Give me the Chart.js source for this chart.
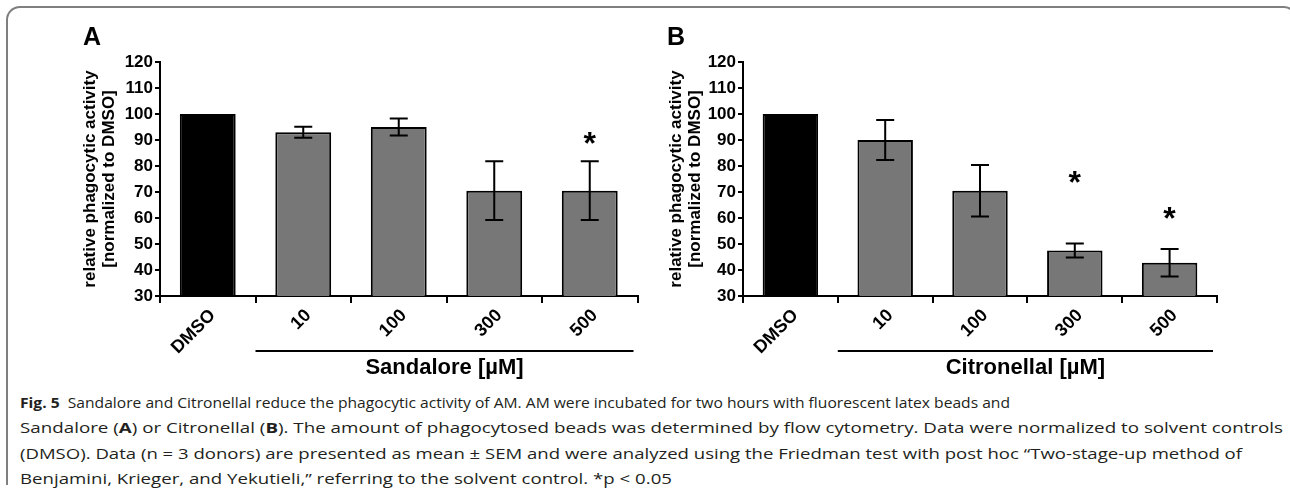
<!DOCTYPE html>
<html>
<head>
<meta charset="utf-8">
<script src="https://cdn.jsdelivr.net/npm/chart.js@4.4.1/dist/chart.umd.min.js"></script>
<style>
  body { margin: 0; background: #fff; width: 1290px; height: 494px; overflow: hidden; position: relative; font-family: "Liberation Sans", Arial, sans-serif; }
  .frame { position: absolute; left: 6px; top: 6px; width: 1286px; height: 477px; border-top: 2px solid #7f7f7f; border-left: 2px solid #7f7f7f; border-right: 2px solid #7f7f7f; border-radius: 14px 12px 0 0; }
  .panel { position: absolute; top: 0; }
  .cap { position: absolute; left: 20px; font-family: "Open Sans", sans-serif; font-size: 15px; color: #231f20; white-space: nowrap; transform-origin: 0 50%; line-height: 25px; }
  .cap b { font-weight: 700; }
</style>
</head>
<body>
<div class="frame"></div>
<canvas id="chartA" class="panel" style="left:0" width="645" height="380"></canvas>
<canvas id="chartB" class="panel" style="left:645px" width="645" height="380"></canvas>

<div class="cap" style="top:390px" data-w="990"><b>Fig. 5</b>&nbsp; Sandalore and Citronellal reduce the phagocytic activity of AM. AM were incubated for two hours with fluorescent latex beads and</div>
<div class="cap" style="top:415px" data-w="1263">Sandalore (<b>A</b>) or Citronellal (<b>B</b>). The amount of phagocytosed beads was determined by flow cytometry. Data were normalized to solvent controls</div>
<div class="cap" style="top:441px" data-w="1222">(DMSO). Data (n = 3 donors) are presented as mean ± SEM and were analyzed using the Friedman test with post hoc “Two-stage-up method of</div>
<div class="cap" style="top:466px" data-w="652">Benjamini, Krieger, and Yekutieli,” referring to the solvent control. *p &lt; 0.05</div>

<script>
var categories = ['DMSO', '10', '100', '300', '500'];
var yTitle = ['relative phagocytic activity', '[normalized to DMSO]'];
var yMin = 30, yMax = 120, yStep = 10;

// panel A: Sandalore
var sandaloreMean = [100, 93, 95, 70.5, 70.5];
var sandaloreSem = [0, 2.1, 3.3, 11.3, 11.3];
var sandaloreStar = [null, null, null, null, 91];

// panel B: Citronellal
var citronellalMean = [100, 90, 70.5, 47.5, 42.8];
var citronellalSem = [0, 7.7, 9.9, 2.7, 5.3];
var citronellalStar = [null, null, null, 76, 62.5];

var barColors = ['#000000', '#777777', '#777777', '#777777', '#777777'];
var boldFont = '"Liberation Sans", Arial, sans-serif';

var extras = {
  id: 'extras',
  afterDraw: function(chart, args, o) {
    var ctx = chart.ctx, x = chart.scales.x, y = chart.scales.y;
    var meta = chart.getDatasetMeta(0);
    ctx.save();
    ctx.strokeStyle = '#000';
    ctx.fillStyle = '#000';
    ctx.lineWidth = 2;
    // error bars
    meta.data.forEach(function(bar, i) {
      var e = o.sem[i];
      if (!e) return;
      var top = y.getPixelForValue(o.mean[i] + e);
      var bot = y.getPixelForValue(o.mean[i] - e);
      ctx.beginPath();
      ctx.moveTo(bar.x, top); ctx.lineTo(bar.x, bot);
      ctx.moveTo(bar.x - 9, top); ctx.lineTo(bar.x + 9, top);
      ctx.moveTo(bar.x - 9, bot); ctx.lineTo(bar.x + 9, bot);
      ctx.stroke();
    });
    // significance stars
    ctx.font = 'bold 32px ' + boldFont;
    ctx.textAlign = 'center';
    ctx.textBaseline = 'alphabetic';
    o.stars.forEach(function(v, i) {
      if (v == null) return;
      ctx.fillText('*', x.getPixelForValue(i), y.getPixelForValue(v) + 17);
    });
    // panel letter
    ctx.textAlign = 'left';
    ctx.font = 'bold 25px ' + boldFont;
    ctx.fillText(o.letter, o.letterX, 45);
    // group line + title
    var step = x.getPixelForValue(1) - x.getPixelForValue(0);
    var x1 = x.getPixelForValue(1) - step / 2;
    var x2 = x.getPixelForValue(4) + step / 2 - 4;
    ctx.beginPath();
    ctx.moveTo(x1, 351); ctx.lineTo(x2, 351);
    ctx.stroke();
    ctx.textAlign = 'center';
    ctx.font = 'bold 22px ' + boldFont;
    ctx.fillText(o.group, (x1 + x2) / 2, 374);
    ctx.restore();
  }
};

function makePanel(id, mean, sem, stars, group, letter, letterX, padLeft, yWidth, padRight) {
  return new Chart(document.getElementById(id), {
    type: 'bar',
    data: {
      labels: categories,
      datasets: [{
        data: mean,
        backgroundColor: barColors,
        borderColor: '#000',
        borderWidth: 2,
        categoryPercentage: 1,
        barPercentage: 0.585
      }]
    },
    options: {
      responsive: false,
      devicePixelRatio: 1,
      animation: false,
      layout: { padding: { left: padLeft, right: padRight, top: 62, bottom: 0 } },
      plugins: {
        legend: { display: false },
        tooltip: { enabled: false },
        extras: { mean: mean, sem: sem, stars: stars, group: group, letter: letter, letterX: letterX }
      },
      scales: {
        x: {
          z: 1,
          offset: true,
          grid: { offset: true, drawOnChartArea: false, color: '#000', lineWidth: 2, tickLength: 7 },
          border: { color: '#000', width: 2 },
          ticks: { color: '#000', font: { family: boldFont, size: 18, weight: 'bold' }, minRotation: 45, maxRotation: 45, padding: 2, labelOffset: 5 },
          afterFit: function(s) { s.height = 84; }
        },
        y: {
          z: 1,
          min: yMin, max: yMax,
          grid: { drawOnChartArea: false, color: '#000', lineWidth: 2, tickLength: 5 },
          border: { color: '#000', width: 2 },
          ticks: { stepSize: yStep, color: '#000', padding: 2, font: { family: boldFont, size: 17, weight: 'bold' } },
          title: { display: true, text: yTitle, color: '#000', padding: 0, font: { family: boldFont, size: 17, weight: 'bold', lineHeight: 1.12 } },
          afterFit: function(s) { s.width = yWidth; }
        }
      }
    },
    plugins: [extras]
  });
}

makePanel('chartA', sandaloreMean, sandaloreSem, sandaloreStar, 'Sandalore [µM]', 'A', 83, 81, 79, 7.5);
makePanel('chartB', citronellalMean, citronellalSem, citronellalStar, 'Citronellal [µM]', 'B', 22, 22, 76, 73);

// squeeze caption lines to the printed widths
document.querySelectorAll('.cap').forEach(function(el) {
  var w = el.getBoundingClientRect().width;
  var target = parseFloat(el.getAttribute('data-w'));
  el.style.transform = 'scaleX(' + (target / w) + ')';
});
</script>
</body>
</html>
